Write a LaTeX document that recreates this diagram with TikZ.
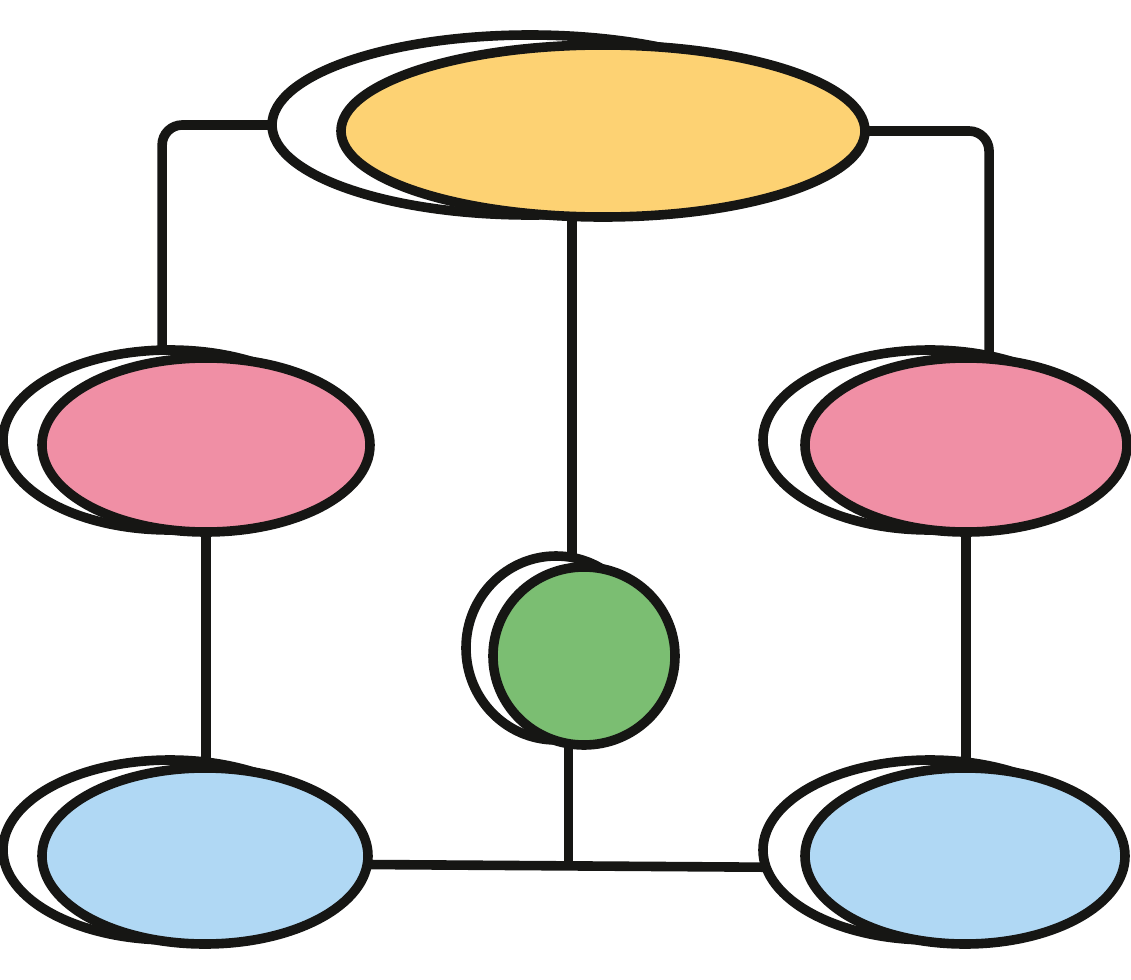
\documentclass[tikz,border=0pt]{standalone}
\usepackage{tikz}
\usetikzlibrary{shapes.geometric}
\definecolor{ink}{HTML}{161614}
\definecolor{sun}{HTML}{FDD273}
\definecolor{rose}{HTML}{F08FA5}
\definecolor{leaf}{HTML}{7BBE72}
\definecolor{sky}{HTML}{B0D8F4}
\tikzset{
  blob/.style={ellipse,draw=ink,line width=4.8pt,inner sep=0pt,outer sep=0pt},
  shade/.style={blob,fill=white},
  link/.style={draw=ink,line width=4.8pt,rounded corners=10pt}
}
\begin{document}
\begin{tikzpicture}[x=0.5pt,y=-0.5pt]
\useasboundingbox (0,0) rectangle (1131,980);
% top
\node[shade,minimum width=258pt,minimum height=90pt] (topB) at (530,125) {};
\node[blob,fill=sun,minimum width=262pt,minimum height=86pt] (top) at (603,131) {};
% middle row
\node[shade,minimum width=167pt,minimum height=90pt] (lpB) at (170,440) {};
\node[blob,fill=rose,minimum width=164pt,minimum height=87pt] (lp) at (206,445) {};
\node[shade,minimum width=167pt,minimum height=90pt] (rpB) at (930,440) {};
\node[blob,fill=rose,minimum width=161pt,minimum height=87pt] (rp) at (966,445) {};
% centre
\node[shade,minimum width=90pt,minimum height=92pt] (gB) at (556,648) {};
\node[blob,fill=leaf,minimum width=91pt,minimum height=89pt] (g) at (584,656) {};
% bottom row
\node[shade,minimum width=167pt,minimum height=90pt] (lbB) at (170,850) {};
\node[blob,fill=sky,minimum width=163pt,minimum height=88pt] (lb) at (205,856) {};
\node[shade,minimum width=167pt,minimum height=90pt] (rbB) at (930,850) {};
\node[blob,fill=sky,minimum width=160pt,minimum height=88pt] (rb) at (965,856) {};
% links
\draw[link] (topB.west) -| (lpB.95);
\draw[link] (top.east) -| (rp.75);
\draw[link] (gB.80 |- top.south) -- (gB.80);
\draw[link] (lp.south) -- (lp.south |- lbB.north);
\draw[link] (rp.south) -- (rp.south |- rbB.north);
\draw[link] (lb.-3) -- (rbB.186);
\draw[link] (g.260) -- (g.260 |- rbB.186);
\end{tikzpicture}
\end{document}
